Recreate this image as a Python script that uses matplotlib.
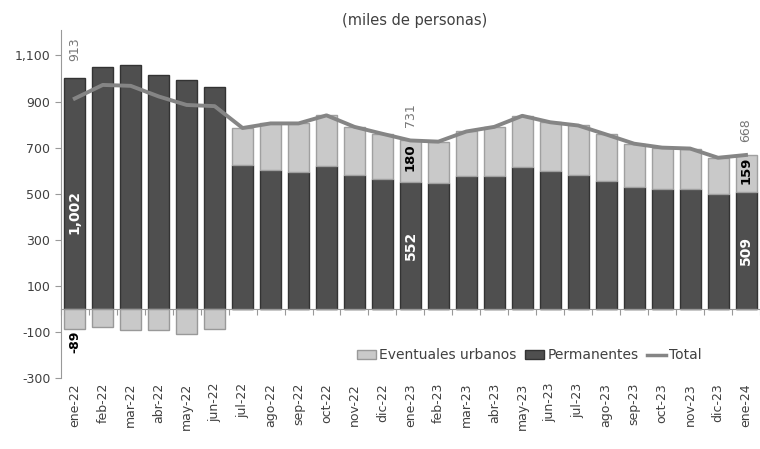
import numpy as np
import matplotlib.pyplot as plt
from matplotlib.patches import Patch
from matplotlib.lines import Line2D

# meses (ene-22 .. ene-24)
meses = ['ene-22', 'feb-22', 'mar-22', 'abr-22', 'may-22', 'jun-22', 'jul-22',
         'ago-22', 'sep-22', 'oct-22', 'nov-22', 'dic-22', 'ene-23', 'feb-23',
         'mar-23', 'abr-23', 'may-23', 'jun-23', 'jul-23', 'ago-23', 'sep-23',
         'oct-23', 'nov-23', 'dic-23', 'ene-24']
permanentes = [1002, 1050, 1058, 1015, 995, 965, 625, 605, 596, 622, 583, 565,
               552, 548, 578, 578, 617, 598, 580, 556, 530, 522, 522, 500, 509]
eventuales = [-89, -78, -90, -93, -110, -85, 160, 200, 209, 218, 207, 195,
              180, 178, 192, 212, 221, 212, 216, 201, 187, 178, 174, 156, 159]
total = [913, 972, 968, 922, 885, 880, 785, 805, 805, 840, 790, 760,
         731, 726, 770, 790, 838, 810, 796, 757, 717, 700, 696, 656, 668]

c_perm = '#4f4f4f'
c_even = '#c9c9c9'
c_total = '#858585'
c_txt = '#404040'

fig = plt.figure(figsize=(7.6, 4.49), dpi=100)
ax = fig.add_axes([0.08, 0.158, 0.92, 0.775])

x = np.arange(len(meses))
w = 0.75
ax.bar(x, permanentes, w, color=c_perm, edgecolor='#333333', linewidth=1, zorder=2)
bott = [p if e > 0 else 0 for p, e in zip(permanentes, eventuales)]
ax.bar(x, [e if e > 0 else 0 for e in eventuales], w, bottom=bott, color=c_even,
       edgecolor='#a0a0a0', linewidth=1, zorder=2)
ax.bar(x, [e if e < 0 else 0 for e in eventuales], w, color=c_even,
       edgecolor='#999999', linewidth=1, zorder=2)
ax.plot(x, total, color=c_total, linewidth=2.8, zorder=3)

ax.set_xlim(-0.5, 24.4)
ax.set_ylim(-300, 1210)
ax.set_yticks([-300, -100, 100, 300, 500, 700, 900, 1100])
ax.set_yticklabels(['-300', '-100', '100', '300', '500', '700', '900', '1,100'])
ax.tick_params(axis='y', colors=c_txt, labelsize=9, length=4, color='#999999')

for s in ['top', 'right']:
    ax.spines[s].set_visible(False)
ax.spines['left'].set_color('#999999')
ax.spines['bottom'].set_position(('data', 0))
ax.spines['bottom'].set_color('#999999')
ax.set_xticks(np.arange(-0.5, len(meses), 1))
ax.set_xticklabels([])
ax.tick_params(axis='x', length=4, color='#999999')

sec = ax.secondary_xaxis('bottom')
sec.set_xticks(x)
sec.set_xticklabels(meses, rotation=90, color=c_txt, fontsize=9)
sec.tick_params(length=0)
sec.spines['bottom'].set_visible(False)

# etiquetas
ax.text(0, total[0] + 215, f'{total[0]:,}', rotation=90, ha='center', va='center',
        color='#777777', fontsize=9)
ax.text(0, permanentes[0] * 0.42, f'{permanentes[0]:,}', rotation=90, ha='center',
        va='center', color='white', fontsize=10, fontweight='bold')
ax.text(0, eventuales[0] - 55, f'{eventuales[0]}', rotation=90, ha='center',
        va='center', color='black', fontsize=9, fontweight='bold')
for i in [12, 24]:
    ax.text(i, total[i] + 110, f'{total[i]}', rotation=90, ha='center', va='center',
            color='#777777', fontsize=9)
    ax.text(i, permanentes[i] + eventuales[i] / 2 + 15, f'{eventuales[i]}', rotation=90,
            ha='center', va='center', color='black', fontsize=9.5, fontweight='bold')
    ax.text(i, permanentes[i] / 2, f'{permanentes[i]}', rotation=90, ha='center',
            va='center', color='white', fontsize=10, fontweight='bold')

handles = [Patch(facecolor=c_even, edgecolor='#999999'),
           Patch(facecolor=c_perm, edgecolor='#333333'),
           Line2D([0], [0], color=c_total, linewidth=2.5)]
ax.legend(handles, ['Eventuales urbanos', 'Permanentes', 'Total'], ncol=3,
          loc='center', bbox_to_anchor=(0.67, 0.065), frameon=False, fontsize=10,
          handlelength=1.4, handletextpad=0.2, columnspacing=0.6, labelcolor=c_txt)

fig.text(0.545, 0.955, '(miles de personas)', ha='center', va='center',
         fontsize=10.5, color=c_txt)

fig.savefig('out.png', dpi=100)
